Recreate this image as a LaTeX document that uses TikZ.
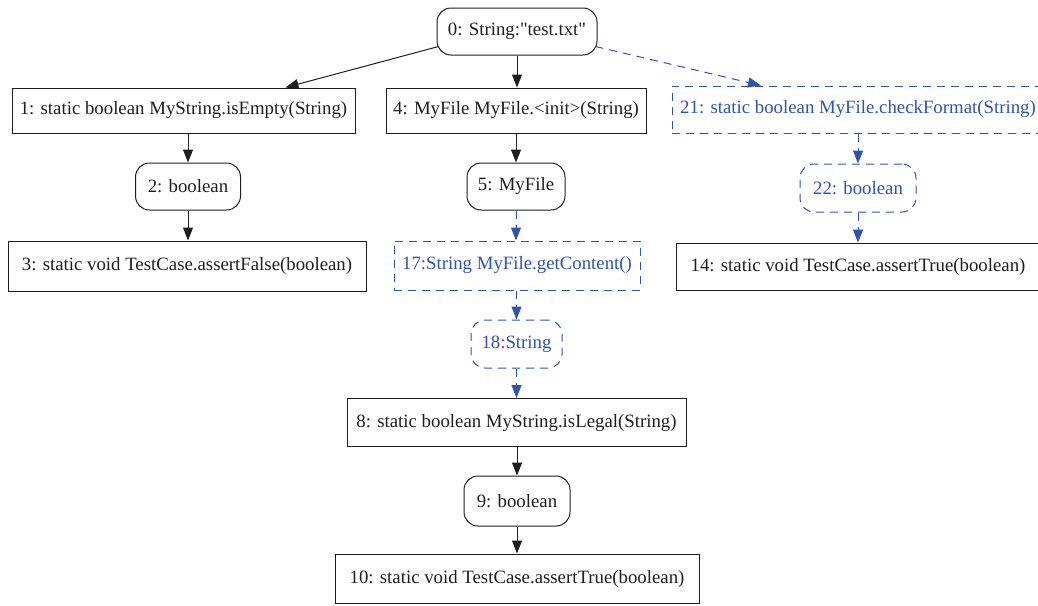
\documentclass[tikz,border=0pt]{standalone}
\usepackage{fontspec}
\setmainfont{Liberation Serif}[Ligatures=TeXOff]
\usetikzlibrary{arrows.meta}
\definecolor{dblue}{RGB}{48,84,172}
\definecolor{ink}{RGB}{30,30,30}
\begin{document}
\begin{tikzpicture}[x=1pt,y=-1pt,
  base/.style={draw=ink,line width=1pt,text=ink,font=\fontsize{18.8}{22}\selectfont,inner sep=0pt,anchor=center},
  rbox/.style={base},
  rnd/.style={base,rounded corners=14pt},
  dbox/.style={base,draw=dblue,text=dblue,dash pattern=on 8pt off 6pt},
  drnd/.style={dbox,rounded corners=14pt},
  edge/.style={draw=ink,line width=1pt,-{Triangle[length=13pt,width=10pt]}},
  dedge/.style={edge,draw=dblue,dash pattern=on 8pt off 6pt}]
\useasboundingbox (0,0) rectangle (1038,605);
\clip (0,0) rectangle (1038,605);

\node[rnd,minimum width=160pt,minimum height=47pt] (n0) at (517,31.5) {0: String:"test.txt"};
\node[rbox,minimum width=343pt,minimum height=45pt] (n1) at (183.5,110.5) {1: static boolean MyString.isEmpty(String)};
\node[rbox,minimum width=260pt,minimum height=45pt] (n4) at (516,110.5) {4: MyFile MyFile.<init>(String)};
\node[dbox,minimum width=372pt,minimum height=47pt] (n21) at (858,109.5) {21: static boolean MyFile.checkFormat(String)};
\node[rnd,minimum width=105pt,minimum height=47pt] (n2) at (188,186.5) {2: boolean};
\node[rnd,minimum width=98pt,minimum height=47pt] (n5) at (516,186.5) {5: MyFile};
\node[drnd,minimum width=116pt,minimum height=48pt] (n22) at (858,188) {22: boolean};
\node[rbox,minimum width=358pt,minimum height=50pt] (n3) at (187,266) {3: static void TestCase.assertFalse(boolean)};
\node[dbox,minimum width=246pt,minimum height=49pt] (n17) at (517,265.5) {17:String MyFile.getContent()};
\node[rbox,minimum width=364pt,minimum height=47pt] (n14) at (858,266.5) {14: static void TestCase.assertTrue(boolean)};
\node[drnd,minimum width=91pt,minimum height=48pt] (n18) at (516.5,344) {18:String};
\node[rbox,minimum width=339pt,minimum height=48pt] (n8) at (516.5,422.5) {8: static boolean MyString.isLegal(String)};
\node[rnd,minimum width=106pt,minimum height=50pt] (n9) at (517,501) {9: boolean};
\node[rbox,minimum width=364pt,minimum height=49pt] (n10) at (517,578.5) {10: static void TestCase.assertTrue(boolean)};

\draw[edge] ([shift={(2,15)}]n0.west) -- ([xshift=102pt]n1.north);
\draw[edge] (n0.south) -- (n0.south |- n4.north);
\draw[dedge] ([shift={(-2,15)}]n0.east) -- ([xshift=-97pt]n21.north);
\draw[edge] (n1.south -| n2.north) -- (n2.north);
\draw[edge] (n2.south) -- (n2.south |- n3.north);
\draw[edge] (n4.south) -- (n4.south |- n5.north);
\draw[dedge] (n5.south) -- (n5.south |- n17.north);
\draw[dedge] (n17.south -| n18.north) -- (n18.north);
\draw[dedge] (n18.south) -- (n18.south |- n8.north);
\draw[edge] (n8.south -| n9.north) -- (n9.north);
\draw[edge] (n9.south) -- (n9.south |- n10.north);
\draw[dedge] (n21.south -| n22.north) -- (n22.north);
\draw[dedge] (n22.south) -- (n22.south |- n14.north);
\end{tikzpicture}
\end{document}
